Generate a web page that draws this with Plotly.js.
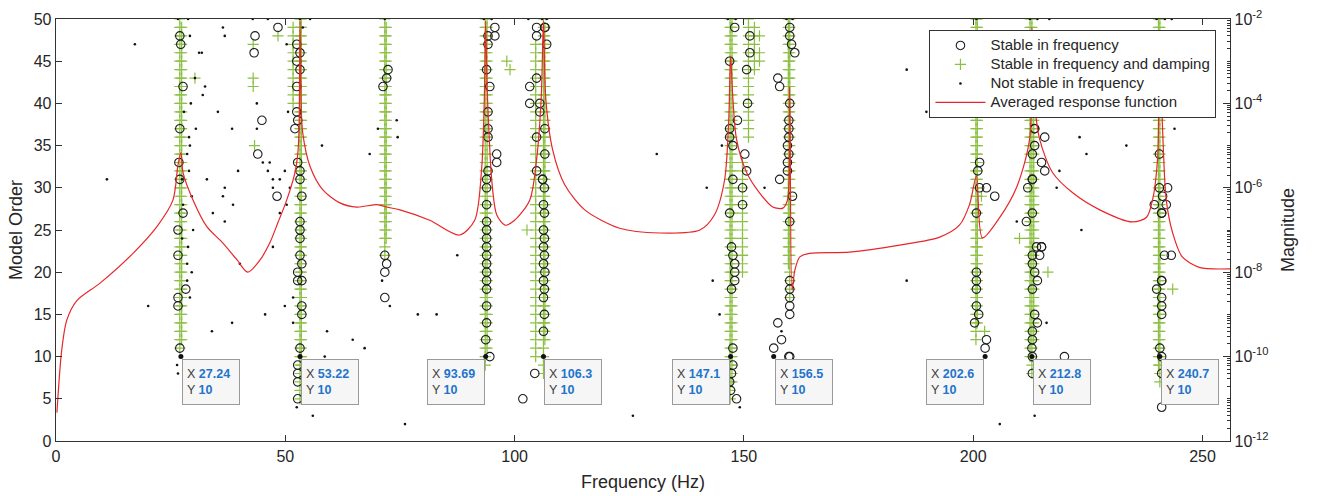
<!DOCTYPE html>
<html>
<head>
<meta charset="utf-8">
<script src="https://cdn.plot.ly/plotly-3.0.1.min.js"></script>
<style>
html,body{margin:0;padding:0;background:#fff;}
#chart{width:1319px;height:496px;}
</style>
</head>
<body>
<div id="chart"></div>
<script>
// ---------- Averaged response function ----------
const frfFreq = [0.2,1.24,2.33,4.5,9.6,16.8,22.0,25.5,26.6,27.24,27.7,29.9,32.9,36.4,39.5,41.8,44.5,46.6,48.4,50.3,52.1,52.75,53.0,53.22,53.45,53.8,55.4,58.2,61.9,65.6,70.0,72.1,75.0,81.5,88.0,91.3,92.8,93.4,93.69,94.0,94.5,95.0,96.1,97.9,100.0,103.3,104.8,105.8,106.3,106.8,108.3,110.9,115.3,122.9,131.6,140.4,143.6,145.8,146.7,147.1,147.6,148.4,150.6,153.4,156.3,158.5,159.5,160.0,160.5,161.1,162.2,164.3,173.0,184.0,192.7,197.0,199.2,200.7,202.0,205.8,209.5,212.3,212.8,213.4,214.5,217.3,221.7,227.6,234.7,237.8,239.1,240.2,240.7,241.3,242.1,243.5,245.6,249.3,256.0];
const frfMag = [4.7e-12,1.4e-10,7.2e-10,2.1e-9,5.5e-9,2.8e-8,1.2e-7,5.1e-7,3.5e-6,6.8e-6,2.3e-6,5.1e-7,1.2e-7,4.9e-8,1.95e-8,1.0e-8,1.95e-8,4.9e-8,1.5e-7,5.1e-7,2.3e-6,6.8e-6,2.5e-5,8.9e-3,1.0e-4,2.0e-5,3.2e-6,8.9e-7,4.4e-7,3.5e-7,4.0e-7,3.5e-7,3.0e-7,1.7e-7,7.6e-8,1.7e-7,2.7e-6,1.3e-4,8.9e-3,2.5e-4,1.3e-5,1.6e-6,2.3e-7,1.3e-7,1.7e-7,5.1e-7,4.7e-6,1.3e-4,8.9e-3,1.3e-4,7.9e-6,1.2e-6,3.0e-7,1.1e-7,8.5e-8,1.0e-7,2.3e-7,1.55e-6,4.2e-5,1.3e-3,1.3e-4,1.4e-5,2.3e-6,7.6e-7,3.5e-7,3.3e-7,5.1e-7,2.5e-4,3.7e-9,1.1e-8,2.3e-8,2.8e-8,3.0e-8,4.4e-8,6.8e-8,1.3e-7,4.0e-7,1.9e-6,6.5e-8,2.0e-7,1.05e-6,1.4e-5,6.3e-3,1.0e-4,1.4e-5,2.3e-6,7.6e-7,3.0e-7,1.55e-7,2.0e-7,5.1e-7,4.7e-6,3.2e-3,2.4e-5,5.1e-7,8.5e-8,2.3e-8,1.3e-8,1.2e-8];

// ---------- Stable in frequency and damping: columns of poles ----------
// each column: frequency, lowest model order, highest model order
const plusColFreq = [27.0,27.4,53.2,53.5,51.7,71.7,72.0,93.6,94.0,104.6,106.3,106.6,147.0,147.4,151.0,152.3,149.7,160.0,159.7,200.6,200.9,212.8,212.4,213.2,240.7,240.4];
const plusColFrom = [11,12,5,8,40,22,24,9,11,10,8,12,5,7,36,44,20,17,21,12,14,8,10,12,7,9];
const plusColTo   = [50,49,50,50,49,50,49,50,50,47,50,49,50,50,50,49,33,50,50,50,50,50,50,48,50,50];
// isolated stable-in-damping poles
const plusExtraF = [30.3,43.0,43.0,43.0,43.3,48.4,98.3,99.0,102.7,153.4,153.4,153.4,149.7,201.8,202.5,210.1,216.3,243.5];
const plusExtraN = [43,47,43,42,35,48,45,44,25,48,46,45,22,29,13,24,20,18];

// ---------- Stable in frequency ----------
const circF = [
27.0,27.2,27.7,27.0,26.8,27.0,27.7,26.6,26.6,28.3,26.6,26.6,27.0,
43.4,43.2,44.9,44.0,48.2,48.4,
52.5,53.2,52.5,53.2,52.5,52.5,52.7,52.1,52.7,53.2,53.2,53.6,53.2,53.2,53.2,53.2,53.6,52.7,52.7,53.6,53.6,53.6,53.2,52.7,52.7,52.7,52.7,
72.4,72.1,71.3,71.7,72.1,71.7,71.7,
95.7,95.7,94.2,94.2,93.9,94.6,94.2,94.2,94.2,96.1,96.1,94.2,93.9,93.9,93.9,93.9,93.9,93.9,93.9,93.9,93.9,93.9,93.9,93.9,93.9,93.9,93.7,94.6,
101.8,104.8,106.6,106.6,104.8,107.0,104.8,103.3,103.3,105.5,105.5,106.6,104.8,106.6,104.8,106.1,106.1,106.5,106.3,106.5,106.3,106.5,106.3,106.5,106.3,106.6,106.3,106.5,106.3,106.5,106.3,104.4,
148.4,148.0,151.3,151.3,146.9,150.6,150.8,148.6,146.9,146.9,147.6,150.2,150.6,147.6,149.7,149.7,146.9,147.3,147.6,148.0,148.0,148.0,147.3,147.6,147.6,147.3,146.9,147.1,
160.0,160.0,160.0,160.4,161.1,157.8,157.4,160.0,159.5,159.5,159.5,157.8,160.6,160.0,160.0,160.0,160.0,160.0,160.0,157.4,158.2,156.5,159.8,159.8,159.8,159.8,159.8,
201.4,201.4,201.0,202.9,204.7,200.7,200.7,200.7,200.7,200.7,201.2,200.3,202.9,202.6,
219.9,213.4,213.4,215.6,213.4,212.9,214.9,215.6,212.9,212.9,211.9,212.9,211.6,213.8,214.9,214.9,212.9,214.5,212.9,213.4,214.0,212.9,213.4,214.0,212.9,212.9,212.8,212.9,212.9,216.2,
241.1,240.6,242.4,240.6,241.3,242.1,239.5,241.1,241.1,241.7,243.2,241.1,241.1,240.0,241.1,241.1,241.1,240.7,241.1,241.1];
const circN = [
48,47,42,37,33,31,27,25,22,18,17,16,11,
48,46,38,34,29,49,
47,46,45,44,42,39,38,37,33,32,31,29,26,25,24,22,21,20,19,19,16,15,11,9,8,7,5,
44,43,42,22,21,20,17,
49,48,48,47,44,42,39,37,36,34,33,32,31,30,28,26,25,24,23,22,21,20,19,18,16,14,12,10,5,
49,49,49,48,47,43,42,40,39,40,37,36,34,32,31,31,30,28,27,25,24,23,22,21,20,19,18,17,15,13,8,5,
49,48,46,45,44,40,38,37,36,35,34,32,31,30,28,27,23,22,21,20,19,18,11,9,8,7,6,10,
49,48,47,46,42,43,40,35,33,32,31,29,26,19,18,17,16,15,14,12,11,10,38,37,36,34,30,
33,32,30,29,27,20,19,18,16,15,14,12,11,10,
37,37,36,35,34,33,32,31,31,30,27,26,23,23,23,22,22,21,20,19,18,15,14,13,12,11,10,8,6,4,
34,30,30,29,28,28,27,27,22,22,19,19,18,17,16,15,11,10,8,7];

// ---------- Not stable in frequency ----------
const dotF = [26.6,28.8,29.2,31.2,30.3,29.4,27.9,30.5,29.0,29.2,28.6,29.0,27.5,29.6,27.7,29.9,27.5,28.8,29.6,28.6,29.2,26.4,26.6,17.2,11.1,20.1,28.6,
36.4,36.8,31.8,32.5,32.0,35.3,38.4,32.9,39.7,36.8,36.4,38.6,34.2,36.8,42.9,46.2,45.1,46.2,46.6,47.3,47.3,43.8,43.8,50.3,50.6,49.9,48.8,51.0,50.3,48.8,55.4,53.8,58.0,68.4,70.2,74.3,74.5,71.7,53.2,
40.1,45.6,38.4,34.0,47.3,49.9,51.7,51.7,59.1,64.7,67.3,58.6,52.5,56.0,71.1,72.8,
76.1,78.9,83.0,87.5,125.8,131.0,93.3,95.0,103.0,106.0,107.0,
141.9,143.2,144.7,145.2,154.5,146.5,148.2,159.3,160.6,149.1,158.2,
185.5,189.8,185.5,209.5,218.2,218.8,223.2,224.7,223.6,233.4,243.9,216.0,213.4,205.8,200.7,212.4,214.0,216.6,240.0,241.8,243.3,250.5];
const dotN = [50,50,48,46,43,40,39,37,36,35,34,32,31,29,28,25,24,23,20,19,17,9,8,47,31,16,21,
49,48,46,42,41,39,37,31,32,30,29,28,27,26,50,50,33,32,33,31,30,40,37,47,39,32,31,30,28,27,50,49,35,34,37,38,36,50,50,
21,15,14,13,23,16,17,14,13,12,11,10,4,3,19,16,
2,15,15,22,3,34,50,50,50,50,50,
30,19,15,35,30,50,50,50,50,4,13,
44,39,19,26,30,32,36,34,25,35,37,14,3,2,50,50,50,50,50,50,50,44];

// ---------- Data tips ----------
const tipX = [27.24,53.22,93.69,106.3,147.1,156.5,202.6,212.8,240.7];
const tipY = [10,10,10,10,10,10,10,10,10];
const tipLabel = ['27.24','53.22','93.69','106.3','147.1','156.5','202.6','212.8','240.7'];
const tipSide = ['right','right','left','right','left','right','left','right','right'];

// ---------- axis tick labels ----------
const freqTicks = [0,50,100,150,200,250];
const magTickVals = [1e-12,1e-10,1e-8,1e-6,1e-4,1e-2];
const magTickText = ['10<sup>-12</sup>','10<sup>-10</sup>','10<sup>-8</sup>','10<sup>-6</sup>','10<sup>-4</sup>','10<sup>-2</sup>'];

// ---------- expand columns ----------
const plusF = [], plusN = [];
plusColFreq.forEach((f, i) => {
  for (let n = plusColFrom[i]; n <= plusColTo[i]; n++) { plusF.push(f); plusN.push(n); }
});
plusExtraF.forEach((f, i) => { plusF.push(f); plusN.push(plusExtraN[i]); });

const FONT = 'Liberation Sans, Arial, sans-serif';
const lg = s => '<span style="font-size:15px">' + s + '</span>';
const traces = [
  {x: plusF, y: plusN, type: 'scatter', mode: 'markers', name: lg('Stable in frequency and damping'),
   marker: {symbol: 'cross-thin-open', size: 8, color: '#8cc043', line: {width: 1.2, color: '#8cc043'}},
   legendrank: 2, hoverinfo: 'skip'},
  {x: circF, y: circN, type: 'scatter', mode: 'markers', name: lg('Stable in frequency'),
   marker: {symbol: 'circle-open', size: 8.5, color: '#1e1e1e', line: {width: 1.1, color: '#1e1e1e'}},
   legendrank: 1, hoverinfo: 'skip'},
  {x: dotF, y: dotN, type: 'scatter', mode: 'markers', name: lg('Not stable in frequency'),
   marker: {symbol: 'circle', size: 2.6, color: '#111'},
   legendrank: 3, hoverinfo: 'skip'},
  {x: tipX, y: tipY, type: 'scatter', mode: 'markers', showlegend: false,
   marker: {symbol: 'circle', size: 5, color: '#111'}, hoverinfo: 'skip'},
  {x: frfFreq, y: frfMag, type: 'scatter', mode: 'lines', name: lg('Averaged response function'),
   yaxis: 'y2', line: {color: '#e8262a', width: 1.2, shape: 'spline', smoothing: 0.8},
   legendrank: 4, hoverinfo: 'skip'}
];

const annotations = tipX.map((x, i) => ({
  x: x, y: tipY[i], xref: 'x', yref: 'y',
  xanchor: tipSide[i] === 'right' ? 'left' : 'right', yanchor: 'top',
  xshift: tipSide[i] === 'right' ? 1 : -1, yshift: -2,
  showarrow: false, align: 'left', valign: 'middle',
  width: 48, height: 36, borderpad: 4,
  bgcolor: '#f6f6f6', bordercolor: '#9a9a9a', borderwidth: 1,
  font: {family: FONT, size: 12.5, color: '#404040'},
  text: 'X <span style="color:#1f74cc;font-weight:bold">' + tipLabel[i] + '</span><br>Y <span style="color:#1f74cc;font-weight:bold">' + tipY[i] + '</span>'
}));

const layout = {
  width: 1319, height: 496,
  margin: {l: 56, r: 89, t: 19, b: 55, pad: 0},
  paper_bgcolor: '#fff', plot_bgcolor: '#fff',
  font: {family: FONT, size: 16, color: '#262626'},
  showlegend: true,
  legend: {x: 0.744, y: 0.974, xanchor: 'left', yanchor: 'top', bgcolor: '#fff',
           bordercolor: '#333', borderwidth: 1, font: {family: FONT, size: 12, color: '#262626'},
           itemwidth: 50, tracegroupgap: 0},
  xaxis: {range: [0, 256], tickvals: freqTicks, ticks: 'inside', ticklen: 6,
          tickcolor: '#333', showline: true, linecolor: '#333', linewidth: 1.3, mirror: 'ticks',
          showgrid: false, zeroline: false, tickfont: {size: 16},
          title: {text: 'Frequency (Hz)', font: {size: 18}, standoff: 12}},
  yaxis: {range: [0, 50], dtick: 5, ticks: 'inside', ticklen: 6, tickcolor: '#333',
          showline: true, linecolor: '#333', linewidth: 1.3, showgrid: false, zeroline: false,
          tickfont: {size: 16}, title: {text: 'Model Order', font: {size: 18}, standoff: 6}},
  yaxis2: {overlaying: 'y', side: 'right', type: 'log', range: [-12, -2],
           tickvals: magTickVals, ticktext: magTickText, ticks: 'inside', ticklen: 7, tickcolor: '#333',
           minor: {dtick: 'D1', ticks: 'inside', ticklen: 3, tickcolor: '#333', showgrid: false},
           showline: true, linecolor: '#333', linewidth: 1.3, showgrid: false, zeroline: false,
           tickfont: {size: 16}, title: {text: 'Magnitude', font: {size: 18}, standoff: 14}},
  annotations: annotations
};

Plotly.newPlot('chart', traces, layout, {staticPlot: true, displayModeBar: false});
</script>
</body>
</html>
